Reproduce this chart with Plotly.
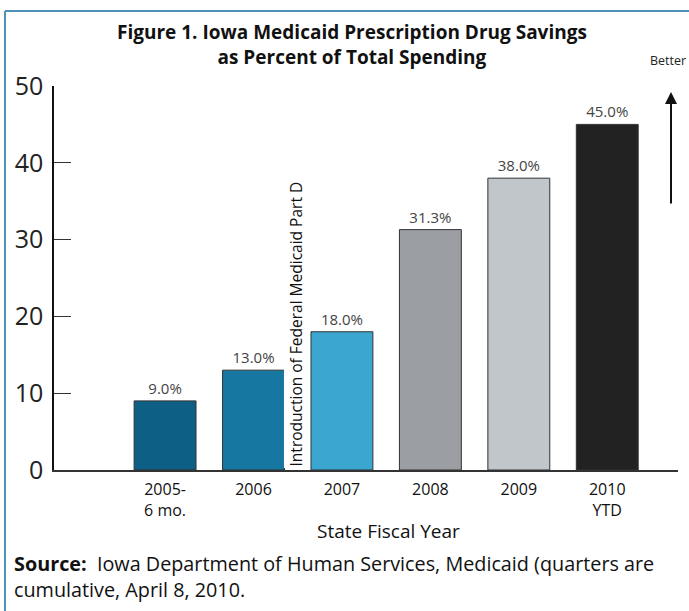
import plotly.graph_objects as go

categories = ["2005-<br>6 mo.", "2006", "2007", "2008", "2009", "2010<br>YTD"]
savings_pct = [9.0, 13.0, 18.0, 31.3, 38.0, 45.0]
value_labels = ["9.0%", "13.0%", "18.0%", "31.3%", "38.0%", "45.0%"]
bar_colors = ["#0e5f86", "#1677a1", "#3ba7d1", "#9b9fa3", "#c0c6c9", "#222222"]
y_ticks = [0, 10, 20, 30, 40, 50]

xpos = list(range(len(categories)))

fig = go.Figure()
fig.add_trace(go.Bar(
    x=xpos, y=savings_pct, width=0.7,
    marker=dict(color=bar_colors, line=dict(color="#333333", width=1)),
    text=value_labels, textposition="outside",
    textfont=dict(family="Open Sans", size=15, color="#444444"),
    cliponaxis=False,
))

W, H = 689, 611
L, R, T, B = 54, 11, 86, 141


def px(xp):
    return (xp - L) / (W - L - R)


def py(yp):
    return (H - B - yp) / (H - T - B)


fig.update_layout(
    template="none",
    width=W, height=H,
    margin=dict(l=L, r=R, t=T, b=B, autoexpand=False),
    paper_bgcolor="white", plot_bgcolor="white",
    showlegend=False,
    xaxis=dict(
        range=[-1.256, 5.80], tickmode="array", tickvals=xpos, ticktext=categories,
        showgrid=False, zeroline=False, showline=True, linecolor="#333333", linewidth=1.5,
        ticks="", tickfont=dict(family="Open Sans", size=16, color="#111111"),
        ticklabelstandoff=4, automargin=False,
    ),
    yaxis=dict(
        range=[0, 50], tickmode="array", tickvals=y_ticks,
        showgrid=False, zeroline=False, showline=True, linecolor="#111111", linewidth=1.5,
        ticks="inside", ticklen=17, tickcolor="#333333", tickwidth=1,
        tickfont=dict(family="Open Sans", size=25, color="#222222"),
        ticklabelstandoff=4, automargin=False,
    ),
)

# Title
fig.add_annotation(
    text="<b>Figure 1. Iowa Medicaid Prescription Drug Savings<br>as Percent of Total Spending</b>",
    xref="paper", yref="paper", x=px(352), y=py(44),
    yanchor="middle", xanchor="center", showarrow=False,
    font=dict(family="Open Sans", size=19, color="#111111"), align="center",
)

# X axis title
fig.add_annotation(
    text="State Fiscal Year", xref="paper", yref="paper",
    x=px(388), y=py(531),
    xanchor="center", yanchor="middle", showarrow=False,
    font=dict(family="Open Sans", size=19, color="#111111"),
)

# Vertical annotation
fig.add_annotation(
    text="Introduction of Federal Medicaid Part D", x=1.48, y=0, xref="x", yref="y",
    textangle=-90, yanchor="bottom", xanchor="center", showarrow=False,
    font=dict(family="Open Sans", size=15.5, color="#111111"), bgcolor="white", yshift=2,
)

# Better arrow
fig.add_annotation(
    text="Better", xref="paper", yref="paper",
    x=px(688), y=py(60),
    xanchor="right", yanchor="middle", showarrow=False,
    font=dict(family="Open Sans", size=12.5, color="#222222"),
)
fig.add_annotation(
    x=px(671), y=py(92), ax=0, ay=113,
    xref="paper", yref="paper", axref="pixel", ayref="pixel",
    text="", showarrow=True, arrowhead=2, arrowsize=1.2, arrowwidth=2, arrowcolor="#111111",
)

# Source
fig.add_annotation(
    text="<b>Source:</b>  Iowa Department of Human Services, Medicaid (quarters are<br>cumulative, April 8, 2010.",
    xref="paper", yref="paper", x=px(12), y=py(548),
    xanchor="left", yanchor="top", showarrow=False, align="left",
    font=dict(family="Open Sans", size=19.8, color="#111111"),
)

# Frame lines
fig.add_shape(type="line", xref="paper", yref="paper", x0=px(5), x1=px(5), y0=py(11), y1=py(611),
              line=dict(color="#4f93b8", width=2))
fig.add_shape(type="line", xref="paper", yref="paper", x0=px(5), x1=px(689), y0=py(11), y1=py(11),
              line=dict(color="#4f93b8", width=2))

fig.write_html("out.html", config={"displayModeBar": False},
               post_script="document.body.style.margin='0';document.body.style.overflow='hidden';")
